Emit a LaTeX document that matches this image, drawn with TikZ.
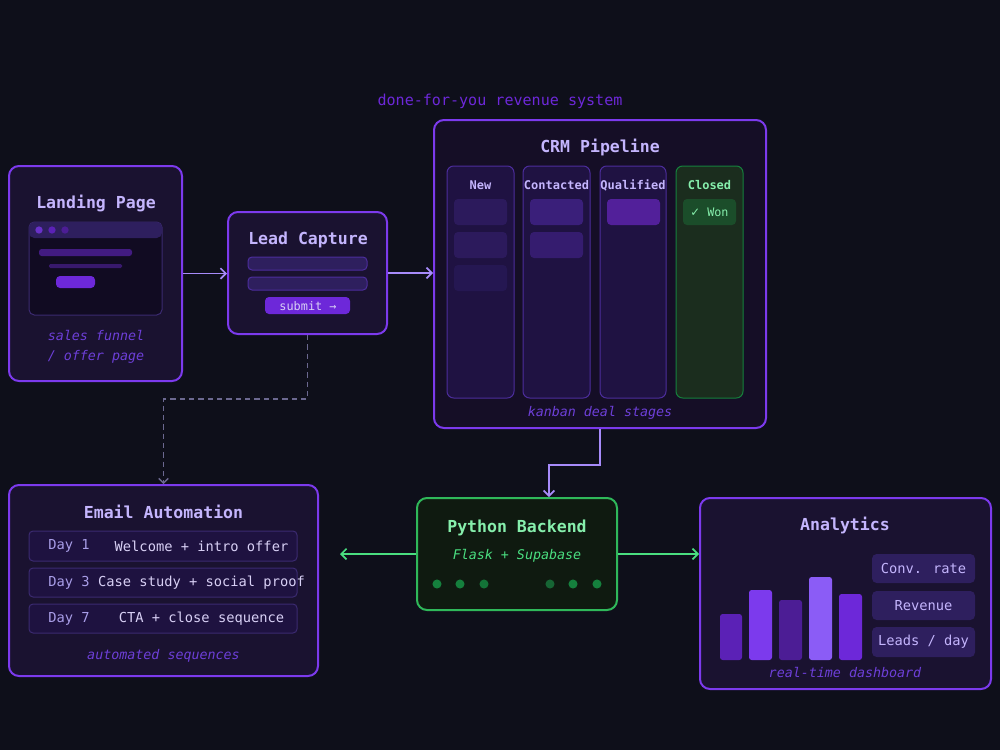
\documentclass[tikz,border=0pt]{standalone}
\usepackage{fontspec}
\setmainfont{DejaVu Sans Mono}
\newfontfamily\symfont{DejaVu Sans}
\usetikzlibrary{arrows.meta,fit,calc}
\definecolor{bgc}{HTML}{0E0F1A}
\definecolor{boxfill}{HTML}{1A1230}
\definecolor{boxline}{HTML}{7C3AED}
\definecolor{titlec}{HTML}{C4B5FD}
\definecolor{capc}{HTML}{6D3FD8}
\definecolor{connc}{HTML}{A78BFA}
\definecolor{dashc}{HTML}{6B6890}
\definecolor{colfill}{HTML}{1F1242}
\definecolor{colline}{HTML}{4C2D9C}
\definecolor{cardA}{HTML}{2C1A5C}
\definecolor{cardB}{HTML}{251752}
\definecolor{cardC}{HTML}{3A1F7A}
\definecolor{cardQ}{HTML}{52209A}
\definecolor{greenfill}{HTML}{1B2D1E}
\definecolor{greenline}{HTML}{15803D}
\definecolor{greencard}{HTML}{1B4D2A}
\definecolor{greentext}{HTML}{86EFAC}
\definecolor{greenmid}{HTML}{4ADE80}
\definecolor{pyfill}{HTML}{0F1A10}
\definecolor{pyline}{HTML}{2FB85A}
\definecolor{dotg}{HTML}{15803D}
\definecolor{dotg2}{HTML}{166534}
\definecolor{rowfill}{HTML}{1E1240}
\definecolor{rowline}{HTML}{3B2A70}
\definecolor{dayc}{HTML}{A99EE8}
\definecolor{descc}{HTML}{D8D0F5}
\definecolor{barA}{HTML}{5B21B6}
\definecolor{barB}{HTML}{7C3AED}
\definecolor{barC}{HTML}{4C1D95}
\definecolor{barD}{HTML}{8B5CF6}
\definecolor{barE}{HTML}{6D28D9}
\definecolor{metfill}{HTML}{2E1F5E}
\definecolor{hdrfill}{HTML}{2E1F5E}
\definecolor{winfill}{HTML}{110B22}
\definecolor{toplab}{HTML}{6D28D9}
\begin{document}
\begin{tikzpicture}[x=0.75pt,y=-0.75pt,
  box/.style={draw=boxline, line width=1.5pt, fill=boxfill, rounded corners=7.5pt, inner sep=0pt},
  title/.style={font=\bfseries\fontsize{12.4}{14}\selectfont, text=titlec},
  captext/.style={font=\itshape\fontsize{10}{12}\selectfont, text=capc},
  card/.style={rounded corners=3pt, inner sep=0pt},
  colbox/.style={draw=colline, line width=0.75pt, fill=colfill, rounded corners=5pt, inner sep=0pt},
  colhead/.style={font=\bfseries\fontsize{9}{11}\selectfont, text=titlec},
  row/.style={draw=rowline, line width=0.75pt, fill=rowfill, rounded corners=3pt, inner sep=0pt},
  metric/.style={fill=metfill, rounded corners=3.5pt, inner sep=0pt},
  mettext/.style={font=\fontsize{10.3}{12}\selectfont, text=titlec},
  conn/.style={draw=connc, line width=1.3pt, -{Straight Barb[length=4pt,width=8pt]}},
  gconn/.style={draw=greenmid, line width=1.3pt, -{Straight Barb[length=4pt,width=8pt]}},
  dconn/.style={draw=dashc, line width=1pt, dash pattern=on 4pt off 3pt, -{Straight Barb[length=3.5pt,width=7pt]}},
  pdot/.style={circle, fill=dotg, minimum size=6.8pt, inner sep=0pt},
  bar/.style={rounded corners=2pt, inner sep=0pt}
]
\fill[bgc] (0,0) rectangle (1000,750);
\useasboundingbox (0,0) rectangle (1000,750);

% top label
\node[font=\fontsize{11.3}{13}\selectfont, text=toplab] (top) at (500,101) {done-for-you revenue system};

% ---------- Landing page ----------
\node[box, fit={(9,166) (182,381)}] (lp) {};
\node[title] (lpt) at (96,203) {Landing Page};
\node[fill=winfill, draw=rowline, line width=0.75pt, rounded corners=4pt, inner sep=0pt, fit={(29,222) (162,315)}] (win) {};
\fill[hdrfill, rounded corners=4pt] (29,222) rectangle (162,238);
\node[circle, fill=barB!85!black, minimum size=5.5pt, inner sep=0pt] (wd1) at (39,230) {};
\node[circle, fill=barA, minimum size=5.5pt, inner sep=0pt] (wd2) at (52,230) {};
\node[circle, fill=barC, minimum size=5.5pt, inner sep=0pt] (wd3) at (65,230) {};
\node[card, fill=barC!80!boxfill, fit={(39,249) (132,256)}, rounded corners=2pt] (wb1) {};
\node[card, fill=barC!60!boxfill, fit={(49,264) (122,268)}, rounded corners=1pt] (wb2) {};
\node[card, fill=barE, fit={(56,276) (95,288)}] (wbtn) {};
\node[captext] (lpc1) at (96,335) {sales funnel};
\node[captext] (lpc2) at (96,357) {/ offer page};

% ---------- Lead capture ----------
\node[box, fit={(228,212) (387,334)}] (lc) {};
\node[title] (lct) at (308,240) {Lead Capture};
\node[card, fill=metfill, draw=colline, line width=0.75pt, fit={(248,257) (367,270)}] (f1) {};
\node[card, fill=metfill, draw=colline, line width=0.75pt, fit={(248,277) (367,290)}] (f2) {};
\node[card, fill=barE, fit={(265,297) (350,314)}] (sub) {};
\node[font=\fontsize{8.9}{10}\selectfont, text=descc] (subt) at (308,306) {submit →};

% ---------- CRM ----------
\node[box, fill=boxfill!80!black, fit={(434,120) (766,428)}] (crm) {};
\node[title] (crmt) at (600,147) {CRM Pipeline};
\node[colbox, fit={(447,166) (514,398)}] (cnew) {};
\node[colbox, fit={(523,166) (590,398)}] (ccon) {};
\node[colbox, fit={(600,166) (666,398)}] (cqua) {};
\node[colbox, draw=greenline, fill=greenfill, fit={(676,166) (743,398)}] (ccls) {};
\node[colhead] at (480.5,185) {New};
\node[colhead] at (556.5,185) {Contacted};
\node[colhead] at (633,185) {Qualified};
\node[colhead, text=greentext] at (709.5,185) {Closed};
\node[card, fill=cardA, fit={(454,199) (507,225)}] (n1) {};
\node[card, fill=cardA, fit={(454,232) (507,258)}] (n2) {};
\node[card, fill=cardB, fit={(454,265) (507,291)}] (n3) {};
\node[card, fill=cardC, fit={(530,199) (583,225)}] (k1) {};
\node[card, fill=cardC!80!colfill, fit={(530,232) (583,258)}] (k2) {};
\node[card, fill=cardQ, fit={(607,199) (660,225)}] (q1) {};
\node[card, fill=greencard, fit={(683,199) (736,225)}] (w1) {};
\node[font=\fontsize{8.8}{10}\selectfont, text=greentext] (w1t) at (709.5,212) {{\symfont ✓} Won};
\node[captext] (crmc) at (600,413) {kanban deal stages};

% ---------- Email automation ----------
\node[box, fit={(9,485) (318,676)}] (em) {};
\node[title] (emt) at (163.5,512) {Email Automation};
\node[row, fit={(29,531) (297,561)}] (r1) {};
\node[row, fit={(29,568) (297,597)}] (r2) {};
\node[row, fit={(29,604) (297,633)}] (r3) {};
\node[anchor=west, inner sep=0pt, font=\fontsize{10.3}{12}\selectfont, text=dayc] at (48,546) {Day 1};
\node[anchor=west, inner sep=0pt, font=\fontsize{10.3}{12}\selectfont, text=dayc] at (48,582.5) {Day 3};
\node[anchor=west, inner sep=0pt, font=\fontsize{10.3}{12}\selectfont, text=dayc] at (48,618.5) {Day 7};
\node[font=\fontsize{10.3}{12}\selectfont, text=descc] at (201.5,546) {Welcome + intro offer};
\node[font=\fontsize{10.3}{12}\selectfont, text=descc] at (201.5,582.5) {Case study + social proof};
\node[font=\fontsize{10.3}{12}\selectfont, text=descc] at (201.5,618.5) {CTA + close sequence};
\node[captext] (emc) at (163.5,656) {automated sequences};

% ---------- Python backend ----------
\node[box, draw=pyline, fill=pyfill, fit={(417,498) (617,610)}] (py) {};
\node[title, text=greentext] (pyt) at (517,528) {Python Backend};
\node[captext, text=greenmid] (pys) at (517,556) {Flask + Supabase};
\node[pdot] at (437,584) {};
\node[pdot] at (460,584) {};
\node[pdot, fill=dotg!90!black] at (484,584) {};
\node[pdot, fill=dotg2] at (550,584) {};
\node[pdot] at (573,584) {};
\node[pdot] at (597,584) {};

% ---------- Analytics ----------
\node[box, fit={(700,498) (991,689)}] (an) {};
\node[title] (ant) at (845,525) {Analytics};
\node[bar, fill=barA, fit={(720,614) (742,660)}] (b1) {};
\node[bar, fill=barB, fit={(749,590) (772,660)}] (b2) {};
\node[bar, fill=barC, fit={(779,600) (802,660)}] (b3) {};
\node[bar, fill=barD, fit={(809,577) (832,660)}] (b4) {};
\node[bar, fill=barE, fit={(839,594) (862,660)}] (b5) {};
\node[metric, fit={(872,554) (975,583)}] (m1) {};
\node[metric, fit={(872,591) (975,620)}] (m2) {};
\node[metric, fit={(872,627) (975,657)}] (m3) {};
\node[mettext] at (m1.center) {Conv. rate};
\node[mettext] at (m2.center) {Revenue};
\node[mettext] at (m3.center) {Leads / day};
\node[captext] (anc) at (845,672) {real-time dashboard};

% ---------- connectors ----------
\draw[conn] (lp.east) -- (lp.east -| lc.west);
\draw[conn] (lc.east) -- (lc.east -| crm.west);
\coordinate (pyin) at (549,497);
\draw[conn] (crm.south) -- ++(0,36) -| (pyin);
\draw[dconn] (lc.south) -- ++(0,64) -| (em.north);
\coordinate (emin) at (340,554);
\draw[gconn] (py.west) -- (emin);
\draw[gconn] (py.east) -- (py.east -| an.west);
\end{tikzpicture}
\end{document}
